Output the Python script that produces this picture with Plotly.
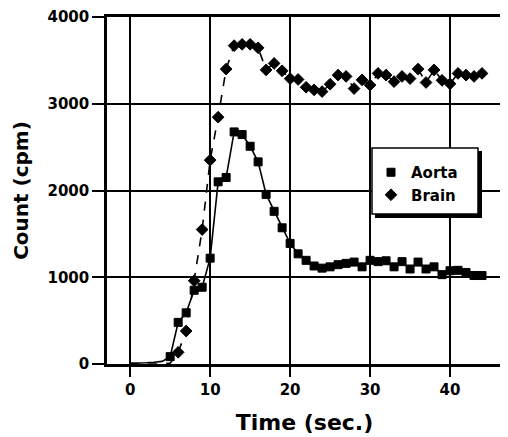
import plotly.graph_objects as go

time_sec = [0, 1, 2, 3, 4, 5, 6, 7, 8, 9, 10, 11, 12, 13, 14, 15, 16, 17, 18, 19, 20, 21,
            22, 23, 24, 25, 26, 27, 28, 29, 30, 31, 32, 33, 34, 35, 36, 37, 38, 39, 40, 41,
            42, 43, 44]
aorta = [10, 10, 15, 20, 30, 85, 480, 590, 850, 885, 1220, 2100, 2150, 2675, 2645, 2510,
         2330, 1955, 1760, 1570, 1390, 1270, 1195, 1130, 1105, 1120, 1145, 1160, 1175, 1120,
         1195, 1180, 1190, 1120, 1180, 1095, 1175, 1095, 1120, 1030, 1075, 1080, 1055, 1020,
         1020]
brain = [0, 0, 0, 0, 0, 10, 135, 380, 960, 1550, 2350, 2845, 3400, 3670, 3685, 3685, 3645,
         3390, 3465, 3380, 3290, 3280, 3190, 3160, 3140, 3225, 3330, 3315, 3175, 3275, 3215,
         3350, 3330, 3255, 3315, 3290, 3400, 3245, 3390, 3270, 3230, 3350, 3330, 3315, 3350]
x_ticks = [0, 10, 20, 30, 40]
y_ticks = [0, 1000, 2000, 3000, 4000]
series_names = ["Aorta", "Brain"]

FONT = "DejaVu Sans"
OFF = 8                      # default page (body) margin
WIN_W, WIN_H = 508, 437
PL, PR, PT, PB = 107, 502, 17, 364   # plot area in window pixels
PW, PH = PR - PL, PB - PT

def px_x(p):
    return (p - PL) / PW

def px_y(p):
    return (PB - p) / PH

def sizes(vals, s):
    return [0 if v < 50 else s for v in vals]

fig = go.Figure()
fig.add_trace(go.Scatter(
    x=time_sec, y=aorta, mode="lines+markers", showlegend=False, opacity=1,
    line=dict(color="black", width=1.6),
    marker=dict(symbol="square", size=sizes(aorta, 8), color="#000000", opacity=1,
                line=dict(color="#000000", width=1)),
))
fig.add_trace(go.Scatter(
    x=time_sec, y=brain, mode="lines+markers", showlegend=False, opacity=1,
    line=dict(color="black", width=1.6, dash="dash"),
    marker=dict(symbol="diamond", size=sizes(brain, 9), color="#000000", opacity=1,
                line=dict(color="#000000", width=1)),
))
# legend entries (marker only, like the original)
fig.add_trace(go.Scatter(x=[None], y=[None], mode="markers", name=series_names[0],
                         marker=dict(symbol="square", size=8, color="black",
                                     line=dict(color="black", width=1))))
fig.add_trace(go.Scatter(x=[None], y=[None], mode="markers", name=series_names[1],
                         marker=dict(symbol="diamond", size=9, color="black",
                                     line=dict(color="black", width=1))))

# legend box with drop shadow
fig.add_shape(type="rect", xref="paper", yref="paper", layer="above",
              x0=px_x(375), x1=px_x(482), y0=px_y(218), y1=px_y(151),
              fillcolor="black", line=dict(width=0))
fig.add_shape(type="rect", xref="paper", yref="paper", layer="above",
              x0=px_x(372), x1=px_x(478), y0=px_y(214), y1=px_y(148),
              fillcolor="white", line=dict(color="black", width=1.5))

fig.update_layout(
    template="none",
    width=WIN_W - OFF, height=WIN_H - OFF,
    margin=dict(l=PL - OFF, r=WIN_W - PR, t=PT - OFF, b=WIN_H - PB),
    paper_bgcolor="white", plot_bgcolor="white",
    font=dict(family=FONT, color="black"),
    showlegend=True,
    legend=dict(x=px_x(371), y=px_y(156), xanchor="left", yanchor="top",
                bgcolor="rgba(0,0,0,0)", borderwidth=0,
                font=dict(family=FONT, size=15, color="black", weight="bold"),
                itemwidth=30, tracegroupgap=0),
)
fig.update_xaxes(
    range=[-2.9, 46.5], tickvals=x_ticks, ticktext=[str(v) for v in x_ticks],
    automargin=False, ticklabeloverflow="allow",
    showgrid=True, gridcolor="black", gridwidth=1.5,
    showline=True, linecolor="black", linewidth=2.5, mirror=True,
    ticks="outside", ticklen=10, tickwidth=1.5, tickcolor="black",
    tickfont=dict(family=FONT, size=15, weight="bold"),
    zeroline=False,
    title=dict(text="Time (sec.)", font=dict(family=FONT, size=22, weight="bold"), standoff=17),
)
fig.update_yaxes(
    range=[0, 4000], tickvals=y_ticks, ticktext=[str(v) for v in y_ticks],
    automargin=False, ticklabeloverflow="allow",
    showgrid=True, gridcolor="black", gridwidth=1.5,
    showline=True, linecolor="black", linewidth=2.5, mirror=True,
    ticks="outside", ticklen=12, tickwidth=1.5, tickcolor="black",
    tickfont=dict(family=FONT, size=15, weight="bold"),
    zeroline=False,
    title=dict(text="Count (cpm)", font=dict(family=FONT, size=20, weight="bold"), standoff=14),
)

fig.write_html("out.html")
